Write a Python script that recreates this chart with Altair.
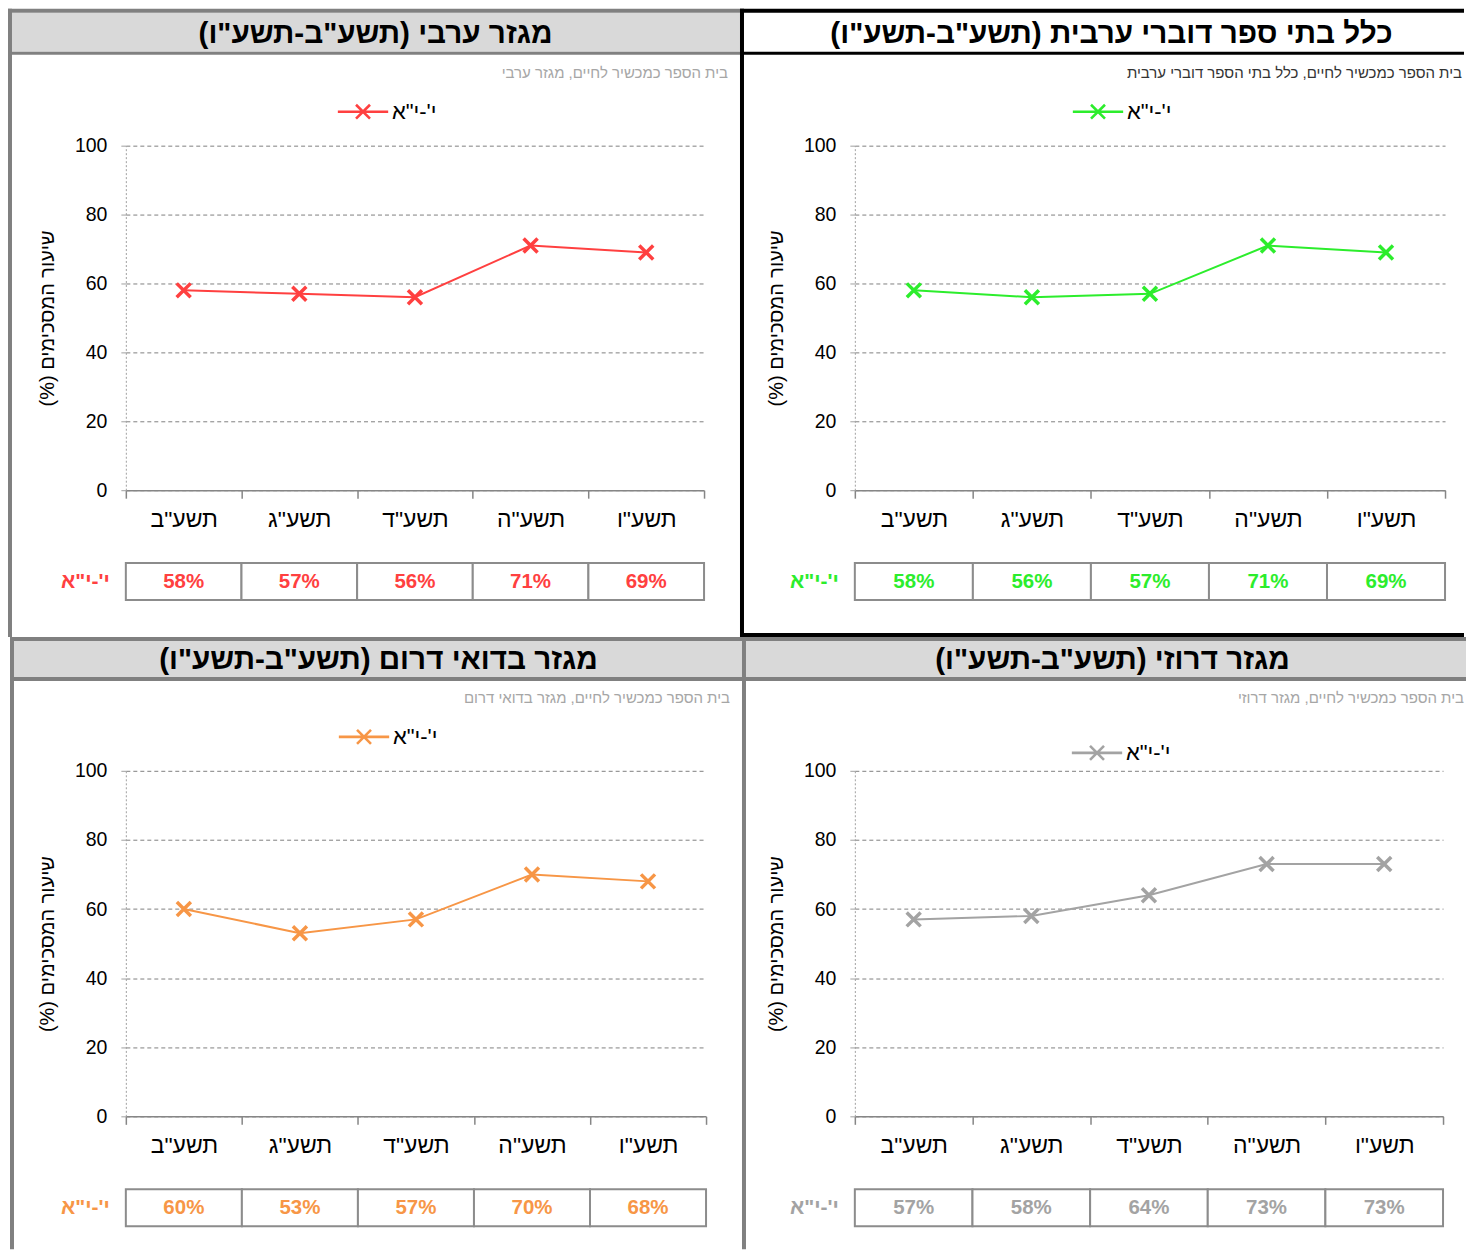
import altair as alt
import pandas as pd

FONT = "Liberation Sans"
RLM = "\u200f"

# ---------------- data ----------------
years = ['תשע"ב', 'תשע"ג', 'תשע"ד', 'תשע"ה', 'תשע"ו']
series_label = "י'-י\"א"
y_ticks = [0, 20, 40, 60, 80, 100]

arab_values = [58, 57, 56, 71, 69]
arabic_all_values = [58, 56, 57, 71, 69]
bedouin_values = [60, 53, 57, 70, 68]
druze_values = [57, 58, 64, 73, 73]

panel_titles = [
    'מגזר ערבי (תשע"ב-תשע"ו)',
    'כלל בתי ספר דוברי ערבית (תשע"ב-תשע"ו)',
    'מגזר בדואי דרום (תשע"ב-תשע"ו)',
    'מגזר דרוזי (תשע"ב-תשע"ו)',
]
panel_subtitles = [
    'בית הספר כמכשיר לחיים, מגזר ערבי',
    'בית הספר כמכשיר לחיים, כלל בתי הספר דוברי ערבית',
    'בית הספר כמכשיר לחיים, מגזר בדואי דרום',
    'בית הספר כמכשיר לחיים, מגזר דרוזי',
]
series_colors = ['#ff4040', '#2ced2c', '#f79646', '#a3a3a3']
y_title = 'שיעור המסכימים (%)'

X_SHAPE = "M-1,-1L1,1M-1,1L1,-1"
LEGEND_SHAPE = "M-3.6,0L3.6,0M-1,-1L1,1M-1,1L1,-1"

one = pd.DataFrame({"k": [0]})


def box(x1, x2, y1, y2, fill, opacity=1):
    return alt.Chart(one).mark_rect(fill=fill, strokeWidth=0, opacity=opacity).encode(
        x=alt.value(x1), x2=alt.value(x2), y=alt.value(y1), y2=alt.value(y2)
    )


def panel(values, color, title, subtitle, sub_color, g):
    w, h = g["w"], g["h"]
    df = pd.DataFrame({"year": years, "value": values, "series": series_label})
    df["label"] = [f"{v}%" for v in values]

    xscale = alt.Scale(type="band", domain=years, paddingInner=0, paddingOuter=0)
    yscale = alt.Scale(domain=[0, 100], nice=False)
    xaxis = alt.Axis(
        title=None, labelAngle=0, labelFontSize=23, labelColor="black", labelFont=FONT,
        labelPadding=10, tickBand="extent", tickSize=8, tickColor="#868686", tickWidth=1.5,
        domainColor="#868686", domainWidth=1.5, grid=False,
    )
    yaxis = alt.Axis(
        title=y_title + RLM, values=y_ticks, labelFontSize=19.5, labelColor="black",
        labelFont=FONT, labelPadding=14, tickSize=5, tickColor="#a0a0a0",
        domainColor="#a0a0a0", domainDash=[2, 2], domainWidth=1,
        gridColor="#808080", gridDash=[4, 3], gridWidth=1,
        titleFontSize=20, titleFontWeight="normal", titleColor="black", titleFont=FONT,
        titleX=-78, titleY=h / 2, titleAngle=270, titleAlign="center", titleBaseline="middle",
    )
    c = w / 2 - 56
    legend = alt.Legend(
        title=None, orient="none", legendX=c - 7, legendY=g["leg_y"] - 11,
        symbolType=LEGEND_SHAPE, symbolSize=196, symbolStrokeWidth=2.6,
        symbolStrokeColor=color, symbolFillColor="transparent",
        labelFontSize=22, labelColor="black", labelFont=FONT, labelOffset=18, padding=0,
    )
    cenc = alt.Color("series:N", scale=alt.Scale(domain=[series_label], range=[color]), legend=legend)
    xenc = alt.X("year:N", sort=years, scale=xscale, axis=xaxis, bandPosition=0.5)
    yenc = alt.Y("value:Q", scale=yscale, axis=yaxis)

    base = alt.Chart(df)
    line = base.mark_line(strokeWidth=2).encode(x=xenc, y=yenc, color=cenc)
    pts = base.mark_point(shape=X_SHAPE, size=196, filled=False, strokeWidth=3.5, opacity=1).encode(
        x=xenc, y=yenc, color=cenc
    )

    cells = base.mark_rect(fill="white", stroke="#8c8c8c", strokeWidth=2).encode(
        x=alt.X("year:N", sort=years, scale=xscale, axis=xaxis),
        y=alt.value(h + 73), y2=alt.value(h + 110),
    )
    cell_text = base.mark_text(fontSize=20.5, fontWeight="bold", color=color, font=FONT,
                               baseline="middle").encode(
        x=alt.X("year:N", sort=years, scale=xscale, axis=xaxis, bandPosition=0.5),
        y=alt.value(h + 92), text="label:N",
    )
    row_label = alt.Chart(one).mark_text(fontSize=21, fontWeight="bold", color=color, font=FONT,
                                         align="right", baseline="middle").encode(
        x=alt.value(-16), y=alt.value(h + 92), text=alt.value(series_label)
    )

    fx1, fx2, fy1, fy2 = g["frame"]
    bc = g["border"]
    decor = [box(fx1, fx2, fy1, fy2, "white", opacity=0)]
    ht, hf, hb, hl = g["header"]  # top line start, fill start, line start, line end
    decor.append(box(fx1, fx2, hf, hb, g["hfill"]))
    decor.append(box(fx1, fx2, ht, hf, bc))
    decor.append(box(fx1, fx2, hb, hl, bc))
    decor.append(box(fx1, fx1 + 4, fy1, fy2, bc))
    if g.get("bottom"):
        decor.append(box(fx1, fx2, fy2 - 4, fy2, bc))

    head = alt.Chart(one).mark_text(fontSize=29.7, fontWeight="bold", color="black", font=FONT,
                                    align="center", baseline="middle").encode(
        x=alt.value(g["title_x"]), y=alt.value(g["title_y"]), text=alt.value(title + RLM)
    )
    sub = alt.Chart(one).mark_text(fontSize=15, color=sub_color, font=FONT,
                                   align="right", baseline="middle").encode(
        x=alt.value(g["sub_x"]), y=alt.value(g["sub_y"]), text=alt.value(subtitle)
    )

    return alt.layer(*decor, head, sub, line, pts, cells, cell_text, row_label).properties(
        width=w, height=h
    )


geoms = [
    dict(w=579, h=345, frame=(-118, 615, -137, 492), border="#808080", hfill="#d9d9d9",
         header=(-137, -133, -94, -91), title_x=250, title_y=-112, sub_x=603, sub_y=-73, leg_y=-34),
    dict(w=591, h=345, frame=(-115, 610, -137, 492), border="#000000", hfill="#ffffff",
         header=(-137, -133, -94, -91), bottom=True, title_x=257, title_y=-112, sub_x=608, sub_y=-73, leg_y=-34),
    dict(w=581, h=346, frame=(-116, 617, -134, 479), border="#808080", hfill="#d9d9d9",
         header=(-134, -130, -94, -90), title_x=253, title_y=-111, sub_x=605, sub_y=-73, leg_y=-34),
    dict(w=589, h=346, frame=(-113, 612, -134, 479), border="#808080", hfill="#d9d9d9",
         header=(-134, -130, -94, -90), title_x=258, title_y=-111, sub_x=610, sub_y=-73, leg_y=-18),
]
all_values = [arab_values, arabic_all_values, bedouin_values, druze_values]
sub_colors = ["#a6a6a6", "#333333", "#a6a6a6", "#a6a6a6"]

panels = [
    panel(all_values[i], series_colors[i], panel_titles[i], panel_subtitles[i], sub_colors[i], geoms[i])
    for i in range(4)
]

row1 = alt.hconcat(panels[0], panels[1], spacing=0).resolve_scale(color="independent")
row2 = alt.hconcat(panels[2], panels[3], spacing=0).resolve_scale(color="independent")

chart = (
    alt.vconcat(row1, row2, spacing=0)
    .resolve_scale(color="independent")
    .properties(padding=0)
    .configure(font=FONT)
    .configure_view(stroke=None)
)

chart.save("out.html", embed_options={"renderer": "svg", "actions": False})
